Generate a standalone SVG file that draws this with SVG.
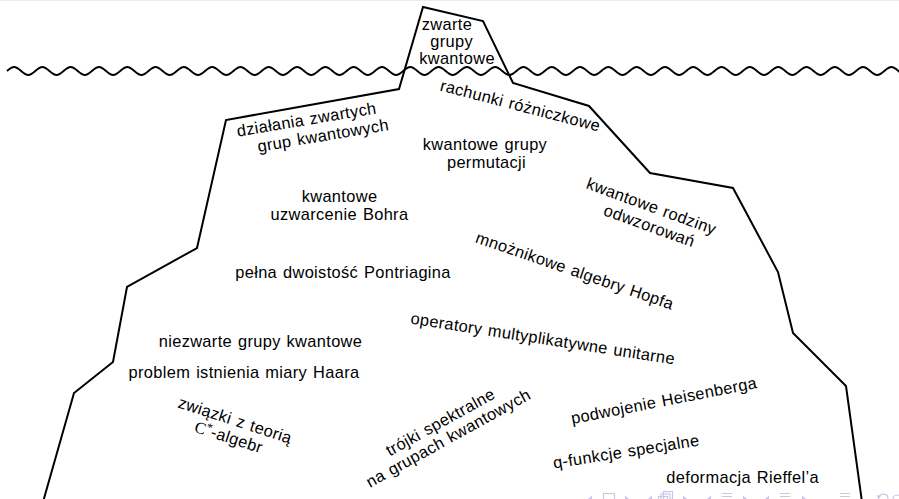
<svg xmlns="http://www.w3.org/2000/svg" width="899" height="499" viewBox="0 0 899 499">
  <style>
    .lbl { font-family: "Liberation Sans", Arial, sans-serif; font-size: 16.4px; letter-spacing: 0.35px; word-spacing: 1px; fill: #000; text-anchor: middle; }
    .math { font-family: "Liberation Serif", "Times New Roman", serif; letter-spacing: 0; }
    .outline { fill: none; stroke: #000; stroke-width: 2; stroke-linejoin: miter; }
    .nav { fill: none; stroke: #c8c8ea; stroke-width: 1.2; }
    .navfill { fill: #c8c8ea; }
  </style>

  <rect x="0" y="0" width="899" height="499" fill="#fff"/>
  <rect x="0" y="0" width="899" height="1" fill="#ececec"/>

  <!-- iceberg outline -->
  <path id="iceberg" class="outline" d="M43,502 L74,393 L113,362 L127,287 L197,248 L226,120 L399,89 L423,7 L483,21 L513,83 L589,106 L650,173 L733,188 L778,272 L793,333 L846,386 L862,502"/>

  <!-- water surface: 32 sine periods -->
  <path id="waterline" class="outline" d="M7,71 c
    6,-5.33 8.15,-5.33 14.15,0 6,5.33 8.15,5.33 14.15,0 6,-5.33 8.15,-5.33 14.15,0 6,5.33 8.15,5.33 14.15,0
    6,-5.33 8.15,-5.33 14.15,0 6,5.33 8.15,5.33 14.15,0 6,-5.33 8.15,-5.33 14.15,0 6,5.33 8.15,5.33 14.15,0
    6,-5.33 8.15,-5.33 14.15,0 6,5.33 8.15,5.33 14.15,0 6,-5.33 8.15,-5.33 14.15,0 6,5.33 8.15,5.33 14.15,0
    6,-5.33 8.15,-5.33 14.15,0 6,5.33 8.15,5.33 14.15,0 6,-5.33 8.15,-5.33 14.15,0 6,5.33 8.15,5.33 14.15,0
    6,-5.33 8.15,-5.33 14.15,0 6,5.33 8.15,5.33 14.15,0 6,-5.33 8.15,-5.33 14.15,0 6,5.33 8.15,5.33 14.15,0
    6,-5.33 8.15,-5.33 14.15,0 6,5.33 8.15,5.33 14.15,0 6,-5.33 8.15,-5.33 14.15,0 6,5.33 8.15,5.33 14.15,0
    6,-5.33 8.15,-5.33 14.15,0 6,5.33 8.15,5.33 14.15,0 6,-5.33 8.15,-5.33 14.15,0 6,5.33 8.15,5.33 14.15,0
    6,-5.33 8.15,-5.33 14.15,0 6,5.33 8.15,5.33 14.15,0 6,-5.33 8.15,-5.33 14.15,0 6,5.33 8.15,5.33 14.15,0
    6,-5.33 8.15,-5.33 14.15,0 6,5.33 8.15,5.33 14.15,0 6,-5.33 8.15,-5.33 14.15,0 6,5.33 8.15,5.33 14.15,0
    6,-5.33 8.15,-5.33 14.15,0 6,5.33 8.15,5.33 14.15,0 6,-5.33 8.15,-5.33 14.15,0 6,5.33 8.15,5.33 14.15,0
    6,-5.33 8.15,-5.33 14.15,0 6,5.33 8.15,5.33 14.15,0 6,-5.33 8.15,-5.33 14.15,0 6,5.33 8.15,5.33 14.15,0
    6,-5.33 8.15,-5.33 14.15,0 6,5.33 8.15,5.33 14.15,0 6,-5.33 8.15,-5.33 14.15,0 6,5.33 8.15,5.33 14.15,0
    6,-5.33 8.15,-5.33 14.15,0 6,5.33 8.15,5.33 14.15,0 6,-5.33 8.15,-5.33 14.15,0 6,5.33 8.15,5.33 14.15,0
    6,-5.33 8.15,-5.33 14.15,0 6,5.33 8.15,5.33 14.15,0 6,-5.33 8.15,-5.33 14.15,0 6,5.33 8.15,5.33 14.15,0
    6,-5.33 8.15,-5.33 14.15,0 6,5.33 8.15,5.33 14.15,0 6,-5.33 8.15,-5.33 14.15,0 6,5.33 8.15,5.33 14.15,0
    6,-5.33 8.15,-5.33 14.15,0 6,5.33 8.15,5.33 14.15,0 6,-5.33 8.15,-5.33 14.15,0 6,5.33 8.15,5.33 14.15,0"/>

  <!-- tip above the water -->
  <g id="zwarte-grupy-kwantowe">
    <text class="lbl" x="447" y="30">zwarte</text>
    <text class="lbl" x="451.7" y="47">grupy</text>
    <text class="lbl" x="457" y="64">kwantowe</text>
  </g>

  <!-- topics below the surface -->
  <g id="rachunki">
    <text class="lbl" transform="translate(519,111) rotate(14.5)">rachunki różniczkowe</text>
  </g>
  <g id="dzialania">
    <text class="lbl" transform="translate(307.5,125) rotate(-9.5)">działania zwartych</text>
    <text class="lbl" transform="translate(324,141) rotate(-9.5)">grup kwantowych</text>
  </g>
  <g id="grupy-permutacji">
    <text class="lbl" x="485" y="150">kwantowe grupy</text>
    <text class="lbl" x="486.5" y="168">permutacji</text>
  </g>
  <g id="uzwarcenie-bohra">
    <text class="lbl" x="339.5" y="202">kwantowe</text>
    <text class="lbl" x="339.5" y="220">uzwarcenie Bohra</text>
  </g>
  <g id="dwoistosc">
    <text class="lbl" x="343" y="278">pełna dwoistość Pontriagina</text>
  </g>
  <g id="rodziny-odwzorowan">
    <text class="lbl" transform="translate(649.5,211.5) rotate(20)">kwantowe rodziny</text>
    <text class="lbl" transform="translate(647.5,231) rotate(20)">odwzorowań</text>
  </g>
  <g id="algebry-hopfa">
    <text class="lbl" transform="translate(573,276) rotate(19)">mnożnikowe algebry Hopfa</text>
  </g>
  <g id="operatory">
    <text class="lbl" transform="translate(542,344) rotate(8.8)">operatory multyplikatywne unitarne</text>
  </g>
  <g id="niezwarte">
    <text class="lbl" x="260.5" y="347">niezwarte grupy kwantowe</text>
  </g>
  <g id="miara-haara">
    <text class="lbl" x="244" y="378">problem istnienia miary Haara</text>
  </g>
  <g id="c-algebry">
    <text class="lbl" transform="translate(233.4,425.5) rotate(18)">związki z teorią</text>
    <text class="lbl" transform="translate(227,442.5) rotate(18)"><tspan class="math">C</tspan><tspan class="math" font-size="12" dy="-5">*</tspan><tspan dy="5">-algebr</tspan></text>
  </g>
  <g id="trojki-spektralne">
    <text class="lbl" transform="translate(443,427) rotate(-29)">trójki spektralne</text>
    <text class="lbl" transform="translate(451,443) rotate(-29)">na grupach kwantowych</text>
  </g>
  <g id="heisenberg">
    <text class="lbl" transform="translate(665,406) rotate(-11)">podwojenie Heisenberga</text>
  </g>
  <g id="q-funkcje">
    <text class="lbl" transform="translate(627,457) rotate(-9)">q-funkcje specjalne</text>
  </g>
  <g id="rieffel">
    <text class="lbl" x="742.6" y="483">deformacja Rieffel’a</text>
  </g>

  <!-- slide navigation controls -->
  <g id="nav-symbols">
    <polygon class="navfill" points="588,499 592,495.5 592,502.5"/>
    <rect class="nav" x="603.5" y="493.5" width="11" height="10"/>
    <polygon class="navfill" points="625,495.5 629,499 625,502.5"/>
    <polygon class="navfill" points="648,499 652,495.5 652,502.5"/>
    <rect class="nav" x="663.5" y="491.5" width="9" height="8"/>
    <rect class="nav" x="661" y="494" width="9" height="8"/>
    <rect class="nav" x="658.5" y="496.5" width="9" height="8"/>
    <polygon class="navfill" points="683,495.5 687,499 683,502.5"/>
    <polygon class="navfill" points="707,499 711,495.5 711,502.5"/>
    <path class="nav" d="M722,493.5 H732 M722,496.5 H732 M722,499.5 H732"/>
    <polygon class="navfill" points="743,495.5 747,499 743,502.5"/>
    <polygon class="navfill" points="765,499 769,495.5 769,502.5"/>
    <path class="nav" d="M780,493.5 H790 M780,496.5 H790 M780,499.5 H790"/>
    <polygon class="navfill" points="802,495.5 806,499 802,502.5"/>
    <path class="nav" d="M840,493.5 H850 M840,496.5 H850 M840,499.5 H850"/>
    <path class="nav" d="M879,498 A4.5,4.5 0 1 1 884,503"/>
    <polygon class="navfill" points="877,495 881,496 878,499.5"/>
    <path class="nav" d="M893,499 A4,4 0 0 1 901,499"/>
  </g>
</svg>
